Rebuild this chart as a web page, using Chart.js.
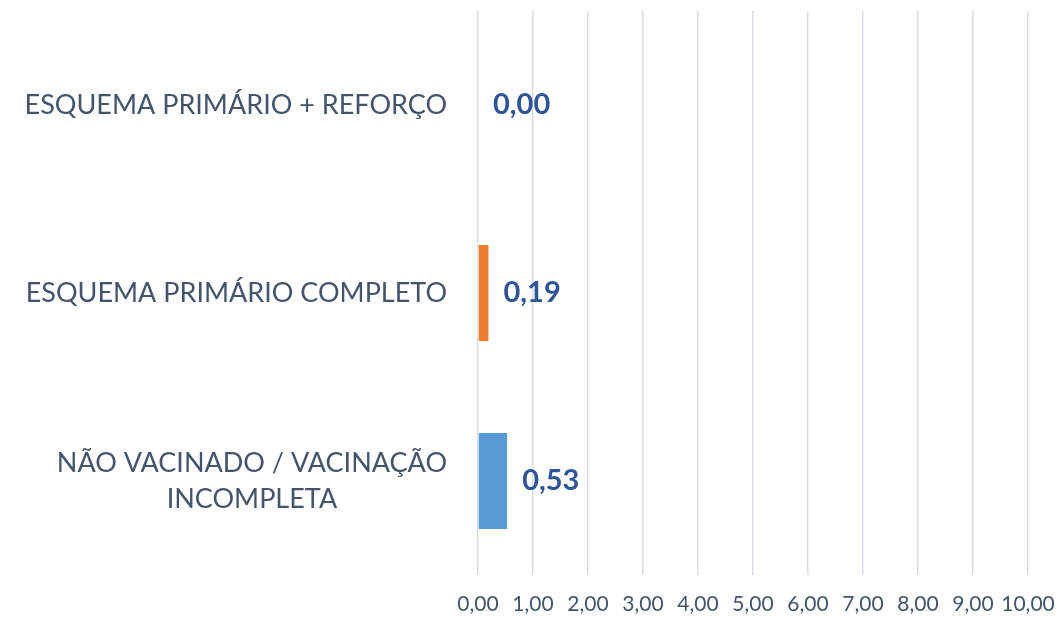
<!DOCTYPE html>
<html lang="pt">
<head>
<meta charset="UTF-8">
<title>Esquema vacinal</title>
<script src="https://cdn.jsdelivr.net/npm/chart.js"></script>
<style>
  body { margin: 0; background: #fff; }
  canvas { display: block; }
</style>
</head>
<body>
<canvas id="chart" width="1056" height="618"></canvas>
<script>
const categories = [
  ['ESQUEMA PRIMÁRIO + REFORÇO'],
  ['ESQUEMA PRIMÁRIO COMPLETO'],
  ['NÃO VACINADO / VACINAÇÃO', 'INCOMPLETA']
];
const values = [0.00, 0.19, 0.53];
const barColors = ['#A5A5A5', '#ED7D31', '#5B9BD5'];
const axisMax = 10;

const fmt = v => v.toFixed(2).replace('.', ',');
const FONT = 'Lato, "Open Sans", sans-serif';

// category labels: right edge fixed, lines centred inside their block
const catLabels = {
  id: 'catLabels',
  afterDraw(chart) {
    const ctx = chart.ctx;
    const y = chart.scales.y;
    const rightEdge = 447;
    ctx.save();
    ctx.font = '27px ' + FONT;
    ctx.fillStyle = '#44546A';
    ctx.textBaseline = 'middle';
    ctx.textAlign = 'center';
    categories.forEach((lines, i) => {
      const cy = y.getPixelForTick(i);
      const w = Math.max(...lines.map(l => ctx.measureText(l).width));
      const cx = rightEdge - w / 2;
      const lh = 36;
      lines.forEach((l, j) => {
        ctx.fillText(l, cx, cy + (j - (lines.length - 1) / 2) * lh);
      });
    });
    ctx.restore();
  }
};

// value labels after the end of each bar
const valueLabels = {
  id: 'valueLabels',
  afterDatasetsDraw(chart) {
    const ctx = chart.ctx;
    const meta = chart.getDatasetMeta(0);
    ctx.save();
    ctx.font = 'bold 29px ' + FONT;
    ctx.fillStyle = '#2F5597';
    ctx.textBaseline = 'middle';
    ctx.textAlign = 'left';
    meta.data.forEach((bar, i) => {
      ctx.fillText(fmt(values[i]), bar.x + 15, bar.y);
    });
    ctx.restore();
  }
};

new Chart(document.getElementById('chart'), {
  type: 'bar',
  data: {
    labels: categories,
    datasets: [{
      data: values,
      backgroundColor: barColors,
      barPercentage: 0.51,
      categoryPercentage: 1
    }]
  },
  options: {
    indexAxis: 'y',
    responsive: false,
    animation: false,
    layout: { padding: { top: 11, right: 28, left: 0, bottom: 0 } },
    plugins: { legend: { display: false }, tooltip: { enabled: false } },
    scales: {
      x: {
        min: 0,
        max: axisMax,
        ticks: {
          stepSize: 1,
          autoSkip: false,
          color: '#44546A',
          font: { family: FONT, size: 21 },
          padding: 17,
          maxRotation: 0,
          callback: v => fmt(v)
        },
        grid: { color: '#D9DDE3', lineWidth: 1.5, drawTicks: false },
        border: { display: false },
        afterFit(scale) {
          scale.height = 43;
          scale.paddingLeft = 0;
          scale.paddingRight = 0;
        }
      },
      y: {
        ticks: { display: false },
        grid: { display: false },
        border: { display: false },
        afterFit(scale) { scale.width = 478; }
      }
    }
  },
  plugins: [catLabels, valueLabels]
});
</script>
</body>
</html>
